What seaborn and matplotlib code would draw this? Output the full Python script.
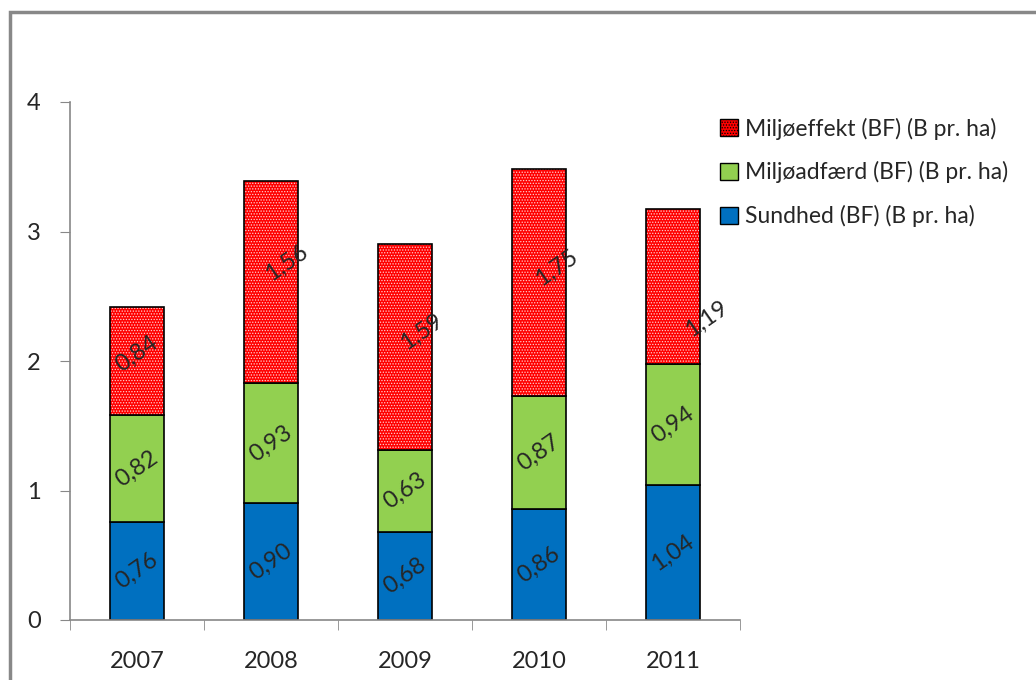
import numpy as np
import pandas as pd
import seaborn as sns
import matplotlib.pyplot as plt
from matplotlib.patches import Rectangle, Patch

# Data
years = ['2007', '2008', '2009', '2010', '2011']
sundhed = [0.76, 0.90, 0.68, 0.86, 1.04]
adfaerd = [0.82, 0.93, 0.63, 0.87, 0.94]
effekt = [0.84, 1.56, 1.59, 1.75, 1.19]
names = ['Sundhed (BF) (B pr. ha)', 'Miljøadfærd (BF) (B pr. ha)', 'Miljøeffekt (BF) (B pr. ha)']
colors = ['#0070C0', '#92D050', '#FF0000']

# label nudges for the top segment (pixels)
red_nudge = [(0, 7), (16, 19), (17, 16), (18, 15), (34, -32)]

sns.set_style('white')
plt.rcParams['font.family'] = ['Lato', 'DejaVu Sans']
plt.rcParams['hatch.linewidth'] = 0.6

fig = plt.figure(figsize=(10.36, 6.8), dpi=100)
ax = fig.add_axes([70 / 1036, 60 / 680, 670 / 1036, 518 / 680])

df = pd.DataFrame({'year': years, 's': sundhed, 'a': adfaerd, 'e': effekt})
b2 = df['s'].values
b3 = b2 + df['a'].values
w = 0.41

sns.barplot(data=df, x='year', y='s', color=colors[0], saturation=1, width=w,
            edgecolor='black', linewidth=1.2, ax=ax)
sns.barplot(data=df, x='year', y='a', bottom=b2, color=colors[1], saturation=1, width=w,
            edgecolor='black', linewidth=1.2, ax=ax)
sns.barplot(data=df, x='year', y='e', bottom=b3, color=colors[2], saturation=1, width=w,
            edgecolor='#ffd0d0', linewidth=0, hatch='......', ax=ax)
# outline on top of hatched segment
ax.bar(range(len(years)), df['e'], bottom=b3, width=w, fill=False,
       edgecolor='black', linewidth=1.2)

# value labels
def fmt(v):
    return f'{v:.2f}'.replace('.', ',')

for i in range(len(years)):
    ax.text(i, sundhed[i] / 2, fmt(sundhed[i]), rotation=35, ha='center', va='center', fontsize=17)
    ax.text(i, b2[i] + adfaerd[i] / 2, fmt(adfaerd[i]), rotation=35, ha='center', va='center', fontsize=17)
    dx, dy = red_nudge[i]
    ax.annotate(fmt(effekt[i]), (i, b3[i] + effekt[i] / 2), xytext=(dx * 0.72, dy * 0.72),
                textcoords='offset points', rotation=35, ha='center', va='center', fontsize=17)

ax.set_ylim(0, 4)
ax.set_xlim(-0.5, 4.5)
ax.set_yticks([0, 1, 2, 3, 4])
ax.set_xlabel('')
ax.set_ylabel('')
ax.tick_params(axis='y', labelsize=17, length=7, color='#888888', direction='out', left=True, pad=14)
ax.tick_params(axis='x', labelsize=17, length=0, pad=22)
# category separator ticks
ax.set_xticks(np.arange(-0.5, 5, 1), minor=True)
ax.tick_params(axis='x', which='minor', length=7, color='#888888', direction='out', bottom=True)
for s in ['top', 'right']:
    ax.spines[s].set_visible(False)
for s in ['left', 'bottom']:
    ax.spines[s].set_color('#888888')
    ax.spines[s].set_linewidth(1.2)

handles = [Patch(facecolor=colors[2], edgecolor='black', hatch='......', label=names[2]),
           Patch(facecolor=colors[1], edgecolor='black', label=names[1]),
           Patch(facecolor=colors[0], edgecolor='black', label=names[0])]
leg = fig.legend(handles=handles, loc='upper left', bbox_to_anchor=(709 / 1036, 1 - 106 / 680),
                 frameon=False, fontsize=16.5, labelspacing=0.95, handlelength=0.75,
                 handleheight=0.75, handletextpad=0.3, borderpad=0)

# chart area border
fig.add_artist(Rectangle((10 / 1036, -0.1), 1.2, (680 - 12) / 680 + 0.1, transform=fig.transFigure,
                         fill=False, edgecolor='#888888', linewidth=2.5, clip_on=False))

fig.savefig('out.png', dpi=100)
